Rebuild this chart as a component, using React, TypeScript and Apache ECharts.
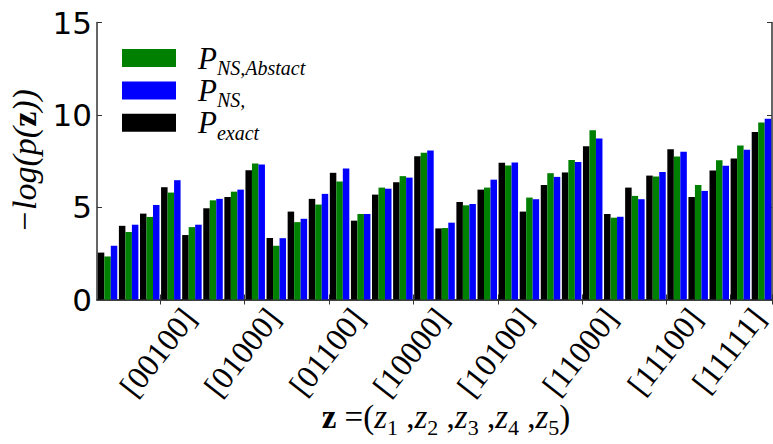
import React, { useEffect, useRef } from 'react';
import * as echarts from 'echarts';

const categories = [
  '00000', '00001', '00010', '00011', '00100', '00101', '00110', '00111',
  '01000', '01001', '01010', '01011', '01100', '01101', '01110', '01111',
  '10000', '10001', '10010', '10011', '10100', '10101', '10110', '10111',
  '11000', '11001', '11010', '11011', '11100', '11101', '11110', '11111',
];
const labelIndices = [4, 8, 12, 16, 20, 24, 28, 31];
const tickIndices = [3, 7, 11, 15, 19, 23, 27, 30];

const pExact = [
  2.54, 3.99, 4.65, 6.08, 3.49, 4.94, 5.55, 7.0,
  3.33, 4.76, 5.45, 6.86, 4.27, 5.68, 6.35, 7.76,
  3.85, 5.28, 5.95, 7.4, 4.76, 6.2, 6.88, 8.3,
  4.63, 6.06, 6.71, 8.14, 5.55, 6.98, 7.64, 9.07,
];
const pNsAbstract = [
  2.33, 3.65, 4.47, 5.79, 3.92, 5.37, 5.84, 7.36,
  2.91, 4.19, 5.14, 6.39, 4.63, 6.06, 6.68, 7.94,
  3.87, 5.1, 6.06, 7.26, 5.52, 6.84, 7.56, 9.16,
  4.43, 5.61, 6.66, 7.74, 6.2, 7.54, 8.34, 9.58,
];
const pNs = [
  2.91, 4.05, 5.12, 6.46, 4.05, 5.45, 5.95, 7.31,
  3.32, 4.37, 5.72, 7.09, 4.63, 6.0, 6.6, 8.07,
  4.16, 5.17, 6.49, 7.42, 5.43, 6.64, 7.44, 8.72,
  4.48, 5.43, 6.91, 8.0, 5.88, 7.24, 8.11, 9.79,
];

const legendSubscripts = ['NS,Abstact', 'NS,', 'exact'];
const legendColors = ['#008000', '#0000ff', '#000000'];
const xTitleSubs = ['1', '2', '3', '4', '5'];

const SERIF = "'Liberation Serif', 'Times New Roman', serif";
const AXIS_COLOR = '#333333';

export default function App() {
  const ref = useRef<HTMLDivElement>(null);

  useEffect(() => {
    if (!ref.current) return;
    const chart = echarts.init(ref.current, undefined, { renderer: 'svg' });

    const legendRich = {
      m: { fontFamily: SERIF, fontStyle: 'italic', fontSize: 31, lineHeight: 40, color: '#000', verticalAlign: 'middle' },
      si: { fontFamily: SERIF, fontStyle: 'italic', fontSize: 20, lineHeight: 18, color: '#000', verticalAlign: 'bottom' },
    };
    const titleRich = {
      m: { fontFamily: SERIF, fontStyle: 'italic', fontSize: 33, lineHeight: 42, color: '#000', verticalAlign: 'middle' },
      u: { fontFamily: SERIF, fontSize: 33, lineHeight: 42, color: '#000', verticalAlign: 'middle' },
      b: { fontFamily: SERIF, fontWeight: 'bold', fontSize: 33, lineHeight: 42, color: '#000', verticalAlign: 'middle' },
      s: { fontFamily: SERIF, fontSize: 22, lineHeight: 18, color: '#000', verticalAlign: 'bottom' },
    };

    const legendGraphics: any[] = [];
    legendSubscripts.forEach((sub, i) => {
      const y = 49 + i * 32.4;
      legendGraphics.push({
        type: 'rect',
        shape: { x: 122, y, width: 54, height: 18 },
        style: { fill: legendColors[i] },
      });
      legendGraphics.push({
        type: 'text',
        x: 198,
        y: y + 9,
        style: {
          text: `{m|P}{si|${sub}}`,
          rich: legendRich,
          verticalAlign: 'middle',
          align: 'left',
        },
      });
    });

    const xTitle =
      '{b|z}{u| =(}' +
      xTitleSubs.map((s, i) => `{m|z}{s|${s}}${i < xTitleSubs.length - 1 ? '{u| ,}' : ''}`).join('') +
      '{u|)}';

    const barCommon = { type: 'bar', barWidth: 6.5, barGap: '0%', xAxisIndex: 0, yAxisIndex: 0 };

    chart.setOption({
      animation: false,
      backgroundColor: '#ffffff',
      grid: { left: 97, right: 1, top: 22.5, bottom: 144.5, containLabel: false, outerBoundsMode: 'none' },
      xAxis: [
        {
          type: 'category',
          data: categories,
          position: 'bottom',
          boundaryGap: true,
          axisLine: { show: true, lineStyle: { color: AXIS_COLOR, width: 1.5 } },
          axisTick: {
            show: true,
            inside: true,
            length: 5,
            interval: (i: number) => tickIndices.includes(i),
            lineStyle: { color: AXIS_COLOR },
          },
          axisLabel: {
            interval: (i: number) => labelIndices.includes(i),
            rotate: 52,
            margin: 9,
            formatter: (v: string) => `[${v}]`,
            fontFamily: SERIF,
            fontSize: 32,
            lineHeight: 18,
            padding: [0, 5, 0, 0],
            color: '#000',
          },
          splitLine: { show: false },
        },
        {
          type: 'category',
          data: categories,
          position: 'top',
          boundaryGap: true,
          axisLine: { show: true, lineStyle: { color: AXIS_COLOR, width: 1.5 } },
          axisTick: {
            show: true,
            inside: true,
            length: 5,
            interval: (i: number) => tickIndices.includes(i),
            lineStyle: { color: AXIS_COLOR },
          },
          axisLabel: { show: false },
          splitLine: { show: false },
        },
      ],
      yAxis: [
        {
          type: 'value',
          min: 0,
          max: 15,
          interval: 5,
          position: 'left',
          axisLine: { show: true, lineStyle: { color: AXIS_COLOR, width: 1.5 } },
          axisTick: { show: true, inside: true, length: 5, lineStyle: { color: AXIS_COLOR } },
          axisLabel: { fontFamily: 'DejaVu Sans', fontSize: 31, color: '#000', margin: 5 },
          splitLine: { show: false },
          name: '{i|\u2212log(p(}{b|z}{i|))}',
          nameLocation: 'middle',
          nameRotate: 90,
          nameGap: 48,
          nameTextStyle: {
            color: '#000',
            rich: {
              i: { fontFamily: SERIF, fontStyle: 'italic', fontSize: 34, color: '#000' },
              b: { fontFamily: SERIF, fontWeight: 'bold', fontSize: 34, color: '#000' },
            },
          },
        },
        {
          type: 'value',
          min: 0,
          max: 15,
          interval: 5,
          position: 'right',
          axisLine: { show: true, lineStyle: { color: AXIS_COLOR, width: 1.5 } },
          axisTick: { show: true, inside: true, length: 5, lineStyle: { color: AXIS_COLOR } },
          axisLabel: { show: false },
          splitLine: { show: false },
        },
      ],
      series: [
        { ...barCommon, name: 'P_exact', data: pExact, itemStyle: { color: legendColors[2] } },
        { ...barCommon, name: 'P_NS,Abstact', data: pNsAbstract, itemStyle: { color: legendColors[0] } },
        { ...barCommon, name: 'P_NS,', data: pNs, itemStyle: { color: legendColors[1] } },
      ],
      graphic: [
        ...legendGraphics,
        {
          type: 'text',
          x: 446,
          y: 417,
          style: { text: xTitle, rich: titleRich, align: 'center', verticalAlign: 'middle' },
        },
      ],
    });

    return () => chart.dispose();
  }, []);

  return (
    <div
      ref={ref}
      style={{ position: 'fixed', left: 0, top: 0, width: 773, height: 444, background: '#fff' }}
    />
  );
}
